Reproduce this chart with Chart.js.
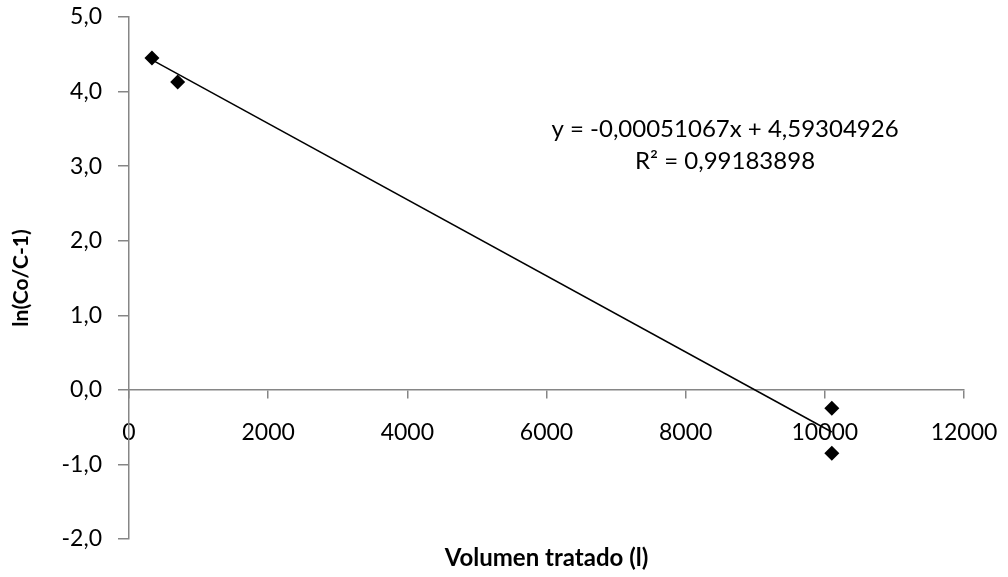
<!DOCTYPE html>
<html>
<head>
<meta charset="utf-8">
<script src="https://cdn.jsdelivr.net/npm/chart.js@4/dist/chart.umd.min.js"></script>
<style>
  html, body { margin: 0; padding: 0; background: #fff; }
  #wrap { width: 1008px; height: 577px; position: relative; }
</style>
</head>
<body>
<div id="wrap"><canvas id="c" width="1008" height="577"></canvas></div>
<script>
// Measured points: treated volume (l) vs ln(Co/C-1)
const volumen = [330, 700, 10100, 10100];
const lnRatio = [4.45, 4.13, -0.245, -0.85];

// Linear fit reported on the chart
const pendiente = -0.00051067;
const intercepto = 4.59304926;
const r2 = 0.99183898;

const yTicks = [-2, -1, 0, 1, 2, 3, 4, 5];
const xTicks = [0, 2000, 4000, 6000, 8000, 10000, 12000];

const FONT = 'Lato, "Open Sans", sans-serif';
const AXIS = '#868686';

const xMin = Math.min(...volumen);
const xMax = Math.max(...volumen);
const trend = [
  { x: xMin, y: pendiente * xMin + intercepto },
  { x: xMax, y: pendiente * xMax + intercepto }
];

const fmt = (v, d) => v.toFixed(d).replace('.', ',');

const labelsPlugin = {
  id: 'labels',
  afterDraw(chart) {
    const { ctx, chartArea } = chart;
    const xs = chart.scales.x;
    const ys = chart.scales.y;
    ctx.save();
    ctx.fillStyle = '#000';
    ctx.textAlign = 'center';
    ctx.textBaseline = 'middle';
    ctx.font = '24px ' + FONT;
    const cx = xs.getPixelForValue(8566);
    ctx.fillText('y = ' + fmt(pendiente, 8) + 'x + ' + fmt(intercepto, 8), cx, ys.getPixelForValue(3.49));
    ctx.fillText('R\u00B2 = ' + fmt(r2, 8), cx, ys.getPixelForValue(3.06));
    ctx.font = 'bold 24px ' + FONT;
    ctx.fillText('Volumen tratado (l)', (chartArea.left + chartArea.right) / 2, 558);
    ctx.restore();
  }
};

new Chart(document.getElementById('c'), {
  type: 'scatter',
  data: {
    datasets: [
      {
        label: 'ln(Co/C-1)',
        data: volumen.map((v, i) => ({ x: v, y: lnRatio[i] })),
        pointStyle: 'rectRot',
        pointRadius: 7.5,
        pointHoverRadius: 7.5,
        backgroundColor: '#000',
        borderColor: '#000',
        borderWidth: 0,
        order: 1
      },
      {
        label: 'Lineal',
        type: 'line',
        data: trend,
        borderColor: '#000',
        borderWidth: 1.5,
        pointRadius: 0,
        fill: false,
        order: 2
      }
    ]
  },
  options: {
    responsive: false,
    animation: false,
    events: [],
    layout: { padding: { top: 17, right: 44, bottom: 38, left: 0 } },
    plugins: { legend: { display: false }, tooltip: { enabled: false } },
    scales: {
      x: {
        type: 'linear',
        position: { y: 0 },
        min: 0, max: 12000,
        afterBuildTicks: s => { s.ticks = xTicks.map(v => ({ value: v })); },
        afterFit: s => { s.paddingLeft = 0; s.paddingRight = 0; s.paddingTop = 0; s.paddingBottom = 0; },
        ticks: { color: '#000', font: { family: FONT, size: 23 }, padding: 21, maxRotation: 0,
                 callback: v => String(v) },
        grid: { drawOnChartArea: false, drawTicks: true, tickLength: 8, color: AXIS, lineWidth: 1.5 },
        border: { display: true, color: AXIS, width: 1.5 }
      },
      y: {
        type: 'linear',
        position: 'left',
        min: -2, max: 5,
        afterBuildTicks: s => { s.ticks = yTicks.map(v => ({ value: v })); },
        afterFit: s => { s.width = 129; s.paddingTop = 0; s.paddingBottom = 0; },
        ticks: { color: '#000', font: { family: FONT, size: 23 }, padding: 16,
                 callback: v => fmt(v, 1) },
        grid: { drawOnChartArea: false, drawTicks: true, tickLength: 11, color: AXIS, lineWidth: 1.5 },
        border: { display: true, color: AXIS, width: 1.5 },
        title: { display: true, text: 'ln(Co/C-1)', color: '#000',
                 font: { family: FONT, size: 21, weight: 'bold' }, padding: { top: 9, bottom: 0 } }
      }
    }
  },
  plugins: [labelsPlugin]
});
</script>
</body>
</html>
